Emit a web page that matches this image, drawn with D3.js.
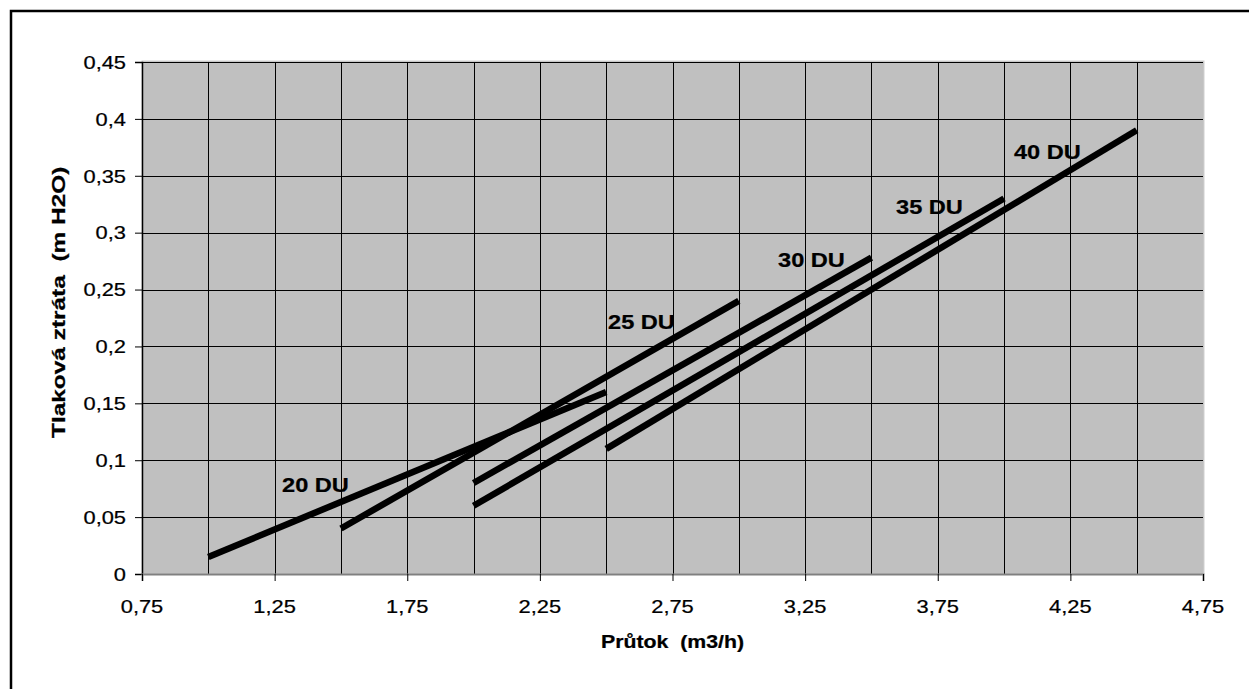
<!DOCTYPE html>
<html><head><meta charset="utf-8">
<script src="https://cdn.jsdelivr.net/npm/d3@7"></script>
<style>html,body{margin:0;padding:0;background:#fff;}svg{display:block;}text{white-space:pre;}</style>
</head><body>
<svg id="c" width="1249" height="689"></svg>
<script>
// ---- data ----
const seriesNames = ["20 DU", "25 DU", "30 DU", "35 DU", "40 DU"];
const flow20 = [1.0, 2.5];   const loss20 = [0.015, 0.16];
const flow25 = [1.5, 3.0];   const loss25 = [0.04, 0.24];
const flow30 = [2.0, 3.5];   const loss30 = [0.08, 0.278];
const flow35 = [2.0, 4.0];   const loss35 = [0.06, 0.33];
const flow40 = [2.5, 4.5];   const loss40 = [0.11, 0.39];
// label anchor points (data units)
const labelFlow = [1.278, 2.507, 3.148, 3.593, 4.037];
const labelLoss = [0.072, 0.2153, 0.270, 0.316, 0.3647];
const xTicks = [0.75, 1.25, 1.75, 2.25, 2.75, 3.25, 3.75, 4.25, 4.75];
const xGrid = [1.0, 1.25, 1.5, 1.75, 2.0, 2.25, 2.5, 2.75, 3.0, 3.25, 3.5, 3.75, 4.0, 4.25, 4.5];
const yTicks = [0, 0.05, 0.1, 0.15, 0.2, 0.25, 0.3, 0.35, 0.4, 0.45];
const xTitle = "Průtok  (m3/h)";
const yTitle = "Tlaková ztráta  (m H2O)";

const flows = [flow20, flow25, flow30, flow35, flow40];
const losses = [loss20, loss25, loss30, loss35, loss40];

const svg = d3.select("#c");
const L = 142, R = 1203, T = 62, B = 574;
const x = d3.scaleLinear().domain([0.75, 4.75]).range([L, R]);
const y = d3.scaleLinear().domain([0, 0.45]).range([B, T]);
const FONT = "'Liberation Sans', Arial, sans-serif";
const fmt = d => d3.format("")(d).replace(".", ",");

// outer border
svg.append("rect").attr("x", 11).attr("y", 11).attr("width", 1400).attr("height", 900)
  .attr("fill", "none").attr("stroke", "#000").attr("stroke-width", 2.5);

// plot background
svg.append("rect").attr("x", L).attr("y", T - 1).attr("width", R - L + 1).attr("height", B - T + 1)
  .attr("fill", "#c0c0c0").attr("stroke", "#d0d0d0").attr("stroke-width", 1);

// grid
const g = svg.append("g").attr("shape-rendering", "crispEdges");
g.selectAll(".hg").data(yTicks.filter(d => d > 0)).join("line")
  .attr("x1", L).attr("x2", R).attr("y1", d => Math.round(y(d)) + 0.5).attr("y2", d => Math.round(y(d)) + 0.5)
  .attr("stroke", "#000").attr("stroke-width", 1);
g.selectAll(".vg").data(xGrid).join("line")
  .attr("y1", T).attr("y2", B).attr("x1", d => Math.round(x(d)) + 0.5).attr("x2", d => Math.round(x(d)) + 0.5)
  .attr("stroke", "#000").attr("stroke-width", 1);

// axes
const yAxis = d3.axisLeft(y).tickValues(yTicks).tickSize(7).tickFormat(fmt);
const ya = svg.append("g").attr("transform", `translate(${L},0)`).call(yAxis);
ya.select(".domain").attr("stroke", "#000").attr("stroke-width", 1.5);
ya.selectAll(".tick line").attr("stroke", "#000");
ya.selectAll(".tick text").remove();

const xAxis = d3.axisBottom(x).tickValues(xTicks).tickSize(7).tickFormat(fmt);
const xa = svg.append("g").attr("transform", `translate(0,${B})`).call(xAxis);
xa.select(".domain").attr("stroke", "#808080").attr("stroke-width", 2);
xa.selectAll(".tick line").attr("stroke", "#000");
xa.selectAll(".tick text").remove();

function txt(px, py, s, opts) {
  const o = Object.assign({size: 19, weight: "normal", anchor: "start", rot: 0, sx: 1.15}, opts || {});
  svg.append("g").attr("transform", `translate(${px},${py}) rotate(${o.rot}) scale(${o.sx},1)`)
    .append("text").text(s)
    .attr("font-family", FONT).attr("font-size", o.size).attr("font-weight", o.weight)
    .attr("text-anchor", o.anchor).attr("fill", "#000")
    .attr("stroke", "#000").attr("stroke-width", 0.25);
}

yTicks.forEach(v => txt(126, y(v) + 6.8, fmt(v), {anchor: "end"}));
xTicks.forEach(v => txt(x(v), 612.7, fmt(v), {anchor: "middle"}));

txt((L + R) / 2, 648, xTitle, {anchor: "middle", weight: "bold", size: 18.5});
txt(65, 438, yTitle, {anchor: "start", weight: "bold", rot: -90, size: 18.5, sx: 1.32});

// series lines
const line = d3.line().x(d => x(d[0])).y(d => y(d[1]));
flows.forEach((fl, i) => {
  const pts = fl.map((f, j) => [f, losses[i][j]]);
  svg.append("path").attr("d", line(pts)).attr("fill", "none")
    .attr("stroke", "#000").attr("stroke-width", 6.5).attr("stroke-linecap", "butt");
});

// labels
seriesNames.forEach((n, i) => txt(x(labelFlow[i]), y(labelLoss[i]), n, {size: 20.5, weight: "bold"}));
</script>
</body></html>
